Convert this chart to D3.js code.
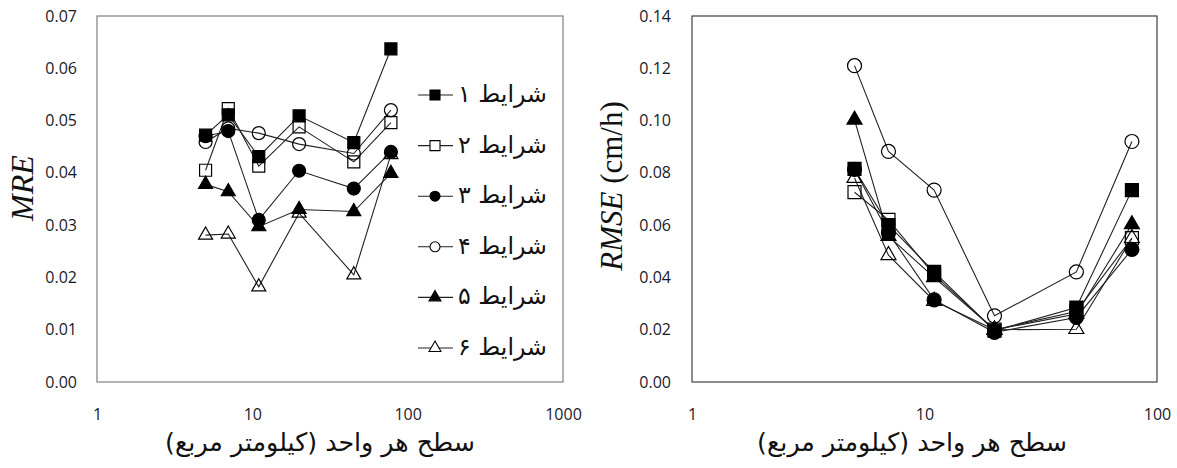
<!DOCTYPE html>
<html>
<head>
<meta charset="utf-8">
<script src="https://cdn.jsdelivr.net/npm/d3@7"></script>
<style>
  body { margin: 0; background: #fff; }
  svg { display: block; }
</style>
</head>
<body>
<div class="svgWrapper"></div>
<script>
// Data //
const areas = [5, 7, 11, 20, 45, 78];
const seriesNames = ["شرایط ۱", "شرایط ۲", "شرایط ۳", "شرایط ۴", "شرایط ۵", "شرایط ۶"];

const mre1 = [0.0472, 0.0511, 0.0431, 0.0509, 0.0458, 0.0637];
const mre2 = [0.0405, 0.0523, 0.0413, 0.0488, 0.0421, 0.0496];
const mre3 = [0.0470, 0.0480, 0.0310, 0.0404, 0.0370, 0.0440];
const mre4 = [0.0459, 0.0485, 0.0476, 0.0455, 0.0437, 0.0520];
const mre5 = [0.0378, 0.0364, 0.0297, 0.0330, 0.0326, 0.0399];
const mre6 = [0.0281, 0.0283, 0.0182, 0.0323, 0.0205, 0.0435];

const rmse1 = [0.0815, 0.0600, 0.0421, 0.0196, 0.0285, 0.0734];
const rmse2 = [0.0726, 0.0620, 0.0410, 0.0200, 0.0270, 0.0550];
const rmse3 = [0.0813, 0.0570, 0.0314, 0.0190, 0.0247, 0.0507];
const rmse4 = [0.1210, 0.0882, 0.0734, 0.0253, 0.0421, 0.0920];
const rmse5 = [0.1003, 0.0558, 0.0400, 0.0200, 0.0260, 0.0603];
const rmse6 = [0.0780, 0.0485, 0.0310, 0.0200, 0.0202, 0.0550];

const mreTicks = [0, 0.01, 0.02, 0.03, 0.04, 0.05, 0.06, 0.07];
const rmseTicks = [0, 0.02, 0.04, 0.06, 0.08, 0.1, 0.12, 0.14];
const mreXTicks = [1, 10, 100, 1000];
const rmseXTicks = [1, 10, 100];

const xTitle = "سطح هر واحد (کیلومتر مربع)\u200F";

// marker per series: shape + filled or open
const markers = [
  { shape: d3.symbolSquare, filled: true },
  { shape: d3.symbolSquare, filled: false },
  { shape: d3.symbolCircle, filled: true },
  { shape: d3.symbolCircle, filled: false },
  { shape: d3.symbolTriangle, filled: true },
  { shape: d3.symbolTriangle, filled: false }
];

// Styles //
const svgStyles = { w: 1177, h: 468 };
const tickFont = "'Open Sans', 'Liberation Sans', sans-serif";
const arabicFont = "'DejaVu Sans', sans-serif";

let svg = d3
  .select(".svgWrapper")
  .append("svg")
  .attr("width", svgStyles.w)
  .attr("height", svgStyles.h);

function symbolArea(shape, side) {
  if (shape === d3.symbolSquare) return side * side;
  if (shape === d3.symbolCircle) return Math.PI * side * side / 4;
  return side * side * Math.sqrt(3) / 4;
}

function fitText(sel, width) {
  const size = parseFloat(sel.style("font-size"));
  const len = sel.node().getComputedTextLength();
  sel.style("font-size", `${(size * width) / len}px`);
}

function makePanel(opt) {
  const x = d3.scaleLog().domain(opt.xDomain).range([opt.left, opt.right]);
  const y = d3.scaleLinear().domain(opt.yDomain).range([opt.bottom, opt.top]);

  // plot border
  svg
    .append("rect")
    .attr("x", opt.left)
    .attr("y", opt.top)
    .attr("width", opt.right - opt.left)
    .attr("height", opt.bottom - opt.top)
    .attr("fill", "none")
    .attr("stroke", opt.border)
    .attr("stroke-width", 1.2);

  // Y axis
  const yAxis = d3
    .axisLeft(y)
    .tickValues(opt.yTicks)
    .tickFormat(d3.format(".2f"))
    .tickSize(0)
    .tickPadding(opt.left - opt.yLabelRight);

  svg
    .append("g")
    .attr("transform", `translate(${opt.left},0)`)
    .call(yAxis)
    .call(g => g.select(".domain").remove())
    .selectAll("text")
    .style("font-family", tickFont)
    .style("font-size", "16px")
    .attr("fill", "#1a1a2a");

  // X axis
  const xAxis = d3
    .axisBottom(x)
    .tickValues(opt.xTicks)
    .tickFormat(d3.format("d"))
    .tickSize(0)
    .tickPadding(27);

  svg
    .append("g")
    .attr("transform", `translate(0,${opt.bottom})`)
    .call(xAxis)
    .call(g => g.select(".domain").remove())
    .selectAll("text")
    .style("font-family", tickFont)
    .style("font-size", "16px")
    .attr("fill", "#1a1a2a");

  // X axis title
  const xt = svg
    .append("text")
    .attr("x", opt.xTitleX)
    .attr("y", 451)
    .attr("text-anchor", "middle")
    .attr("direction", "rtl")
    .style("font-family", arabicFont)
    .style("font-size", "22px")
    .attr("fill", "#111")
    .text(xTitle);
  fitText(xt, 310);

  // Y axis title
  const yt = svg
    .append("text")
    .attr("transform", `translate(${opt.yTitleX},${opt.yTitleY}) rotate(-90)`)
    .attr("text-anchor", "middle")
    .style("font-family", "'Liberation Serif', 'Times New Roman', serif")
    .style("font-size", `${opt.yTitleSize}px`)
    .attr("fill", "#111");
  yt.append("tspan").style("font-style", "italic").text(opt.yTitle);
  if (opt.yUnit) yt.append("tspan").text(opt.yUnit);

  // lines
  const line = d3
    .line()
    .x((d, i) => x(areas[i]))
    .y(d => y(d));

  opt.series.forEach(s => {
    svg
      .append("path")
      .attr("d", line(s))
      .attr("fill", "none")
      .attr("stroke", "#222")
      .attr("stroke-width", 1.1);
  });

  // markers, last series first so series 1 ends up on top
  opt.series
    .map((s, k) => ({ s, k }))
    .reverse()
    .forEach(({ s, k }) => {
      const m = markers[k];
      const side = opt.mSize[m.shape === d3.symbolTriangle ? 2 : m.shape === d3.symbolCircle ? 1 : 0];
      svg
        .selectAll(null)
        .data(s)
        .enter()
        .append("path")
        .attr("transform", (d, i) => `translate(${x(areas[i])},${y(d)})`)
        .attr("d", d3.symbol(m.shape, symbolArea(m.shape, side)))
        .attr("fill", m.filled ? "#000" : "none")
        .attr("stroke", "#000")
        .attr("stroke-width", 1.2);
    });

  return { x, y };
}

// Left panel: MRE
makePanel({
  left: 97,
  right: 563,
  top: 16,
  bottom: 382,
  border: "#7f7f7f",
  xDomain: [1, 1000],
  yDomain: [0, 0.07],
  xTicks: mreXTicks,
  yTicks: mreTicks,
  yLabelRight: 77,
  xTitleX: 320,
  yTitle: "MRE",
  yUnit: null,
  yTitleX: 33,
  yTitleY: 188,
  yTitleSize: 32,
  mSize: [12, 13, 14],
  series: [mre1, mre2, mre3, mre4, mre5, mre6]
});

// Right panel: RMSE
makePanel({
  left: 692,
  right: 1157,
  top: 16,
  bottom: 382,
  border: "#404040",
  xDomain: [1, 100],
  yDomain: [0, 0.14],
  xTicks: rmseXTicks,
  yTicks: rmseTicks,
  yLabelRight: 671,
  xTitleX: 912,
  yTitle: "RMSE",
  yUnit: " (cm/h)",
  yTitleX: 622,
  yTitleY: 186,
  yTitleSize: 31,
  mSize: [13, 14, 15],
  series: [rmse1, rmse2, rmse3, rmse4, rmse5, rmse6]
});

// Legend (inside left plot)
const legend = svg.append("g").attr("id", "legend");
const legendRow = d3.scaleLinear().domain([0, 5]).range([95, 348]);

seriesNames.forEach((name, k) => {
  const m = markers[k];
  const ly = legendRow(k);
  legend
    .append("line")
    .attr("x1", 418)
    .attr("x2", 453)
    .attr("y1", ly)
    .attr("y2", ly)
    .attr("stroke", "#222")
    .attr("stroke-width", 1.1);
  legend
    .append("path")
    .attr("transform", `translate(435,${ly})`)
    .attr("d", d3.symbol(m.shape, symbolArea(m.shape, m.shape === d3.symbolTriangle ? 12 : 10)))
    .attr("fill", m.filled ? "#000" : "#fff")
    .attr("stroke", "#000")
    .attr("stroke-width", 1.1);
  const t = legend
    .append("text")
    .attr("x", 458)
    .attr("y", ly + 7)
    .attr("text-anchor", "start")
    .style("font-family", arabicFont)
    .style("font-size", "20px")
    .attr("fill", "#111")
    .text(name);
  fitText(t, 89);
});
</script>
</body>
</html>
